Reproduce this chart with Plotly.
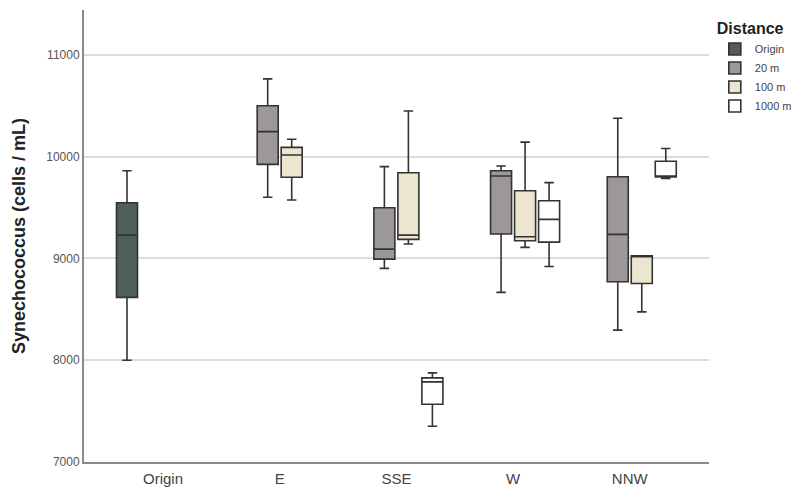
import plotly.graph_objects as go

categories = ["Origin", "E", "SSE", "W", "NNW"]

# Each series: sites, and box statistics
series_names = ["Origin", "20 m", "100 m", "1000 m"]

origin_sites = ["Origin"]
origin_low = [8000]
origin_q1 = [8617]
origin_med = [9229]
origin_q3 = [9547]
origin_high = [9861]

m20_sites = ["E", "SSE", "W", "NNW"]
m20_low = [9600, 8902, 8666, 8295]
m20_q1 = [9924, 8993, 9239, 8770]
m20_med = [10245, 9091, 9809, 9236]
m20_q3 = [10500, 9498, 9861, 9802]
m20_high = [10763, 9901, 9908, 10376]

m100_sites = ["E", "SSE", "W", "NNW"]
m100_low = [9573, 9141, 9108, 8475]
m100_q1 = [9797, 9187, 9173, 8754]
m100_med = [10016, 9229, 9212, 9020]
m100_q3 = [10091, 9842, 9665, 9026]
m100_high = [10170, 10448, 10142, 9026]

m1000_sites = ["SSE", "W", "NNW"]
m1000_low = [7351, 8921, 9785]
m1000_q1 = [7567, 9160, 9800]
m1000_med = [7787, 9383, 9810]
m1000_q3 = [7826, 9566, 9955]
m1000_high = [7875, 9744, 10080]

y_ticks = [7000, 8000, 9000, 10000, 11000]

fills = ["#4f5f57", "#9c9799", "#ece5cf", "#ffffff"]
FONT = "Liberation Sans, Arial, sans-serif"

data = [
    (origin_sites, origin_low, origin_q1, origin_med, origin_q3, origin_high),
    (m20_sites, m20_low, m20_q1, m20_med, m20_q3, m20_high),
    (m100_sites, m100_low, m100_q1, m100_med, m100_q3, m100_high),
    (m1000_sites, m1000_low, m1000_q1, m1000_med, m1000_q3, m1000_high),
]

fig = go.Figure()
for name, fill, (sites, lo, q1, med, q3, hi) in zip(series_names, fills, data):
    fig.add_trace(go.Box(
        name=name, x=sites, lowerfence=lo, q1=q1, median=med, q3=q3, upperfence=hi,
        fillcolor=fill, line=dict(color="#333333", width=1.6),
        whiskerwidth=0.45, boxpoints=False, hoverinfo="skip",
    ))

fig.update_layout(
    width=796, height=489,
    margin=dict(l=84, r=87, t=10, b=27),
    plot_bgcolor="white", paper_bgcolor="white",
    boxmode="group", boxgap=0.177, boxgroupgap=0.125,
    font=dict(family=FONT, color="#444"),
    xaxis=dict(
        type="category", categoryorder="array", categoryarray=categories,
        range=[-0.677, 4.679], showgrid=False, showline=True, automargin=False,
        linecolor="#8a8a8a", linewidth=2, ticks="", ticklabelstandoff=2,
        tickfont=dict(size=15, color="#444"), zeroline=False,
    ),
    yaxis=dict(
        range=[7000, 11440], tickvals=y_ticks, ticktext=[str(v) for v in y_ticks],
        showgrid=True, gridcolor="#dcdcdc", gridwidth=1.5, automargin=False,
        showline=True, linecolor="#8a8a8a", linewidth=2, ticks="",
        tickfont=dict(size=12, color="#555"), zeroline=False,
        title=dict(text="<b>Synechococcus (cells / mL)</b>",
                   font=dict(size=18, color="#222"), standoff=16),
    ),
    legend=dict(
        title=dict(text="<b>Distance</b>", font=dict(size=16, color="#222")),
        xref="container", yref="container",
        x=0.898, y=0.972, xanchor="left", yanchor="top",
        font=dict(size=11, color="#444"), tracegroupgap=0,
        itemwidth=30, bgcolor="rgba(0,0,0,0)",
    ),
)

fig.write_html("out.html")
